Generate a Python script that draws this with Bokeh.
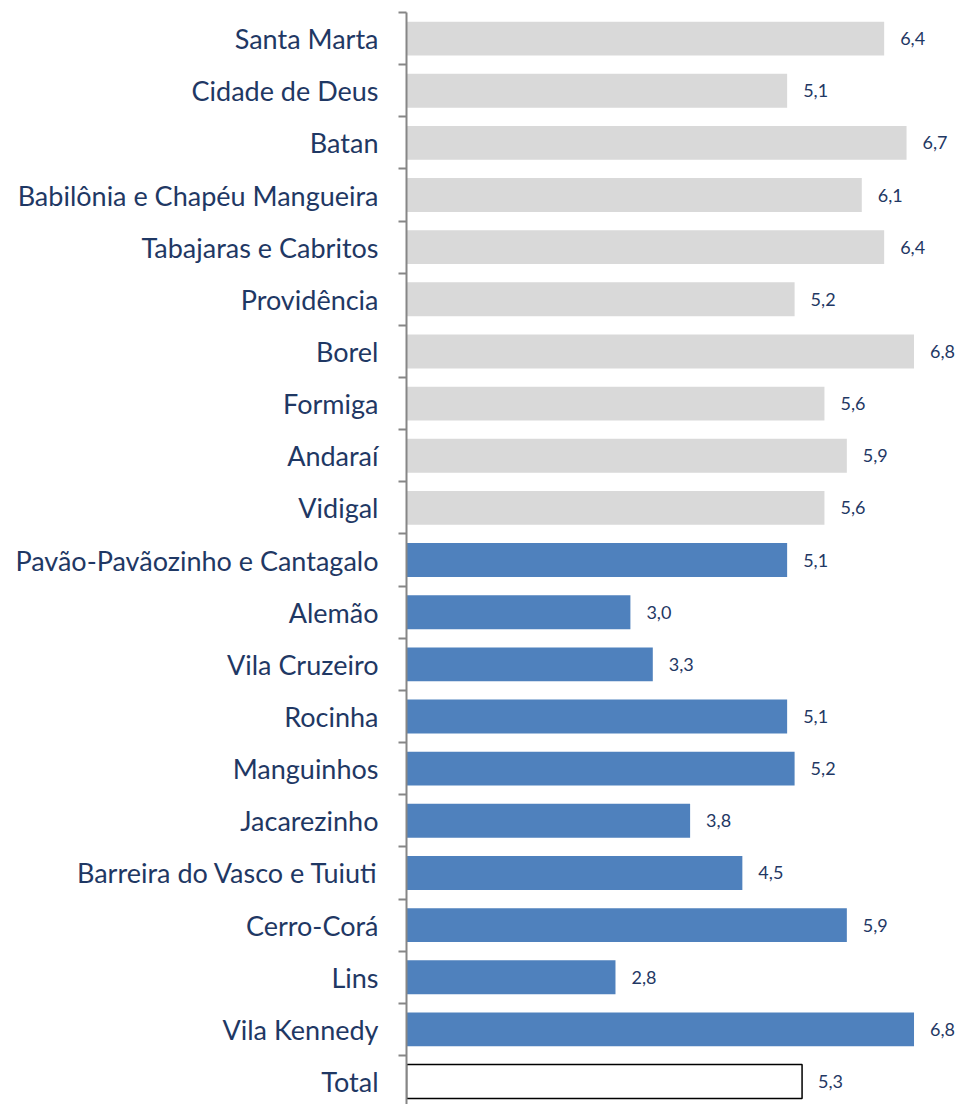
from bokeh.plotting import figure
from bokeh.models import ColumnDataSource, FixedTicker, Range1d
from bokeh.embed import file_html
from bokeh.resources import INLINE
from bokeh.core.properties import value

categories = ["Santa Marta", "Cidade de Deus", "Batan", "Babilônia e Chapéu Mangueira",
              "Tabajaras e Cabritos", "Providência", "Borel", "Formiga", "Andaraí", "Vidigal",
              "Pavão-Pavãozinho e Cantagalo", "Alemão", "Vila Cruzeiro", "Rocinha", "Manguinhos",
              "Jacarezinho", "Barreira do Vasco e Tuiuti", "Cerro-Corá", "Lins", "Vila Kennedy", "Total"]
values = [6.4, 5.1, 6.7, 6.1, 6.4, 5.2, 6.8, 5.6, 5.9, 5.6,
          5.1, 3.0, 3.3, 5.1, 5.2, 3.8, 4.5, 5.9, 2.8, 6.8, 5.3]
groups = ["grey"] * 10 + ["blue"] * 10 + ["total"]

colour_of = {"grey": "#D9D9D9", "blue": "#4F81BD", "total": "#FFFFFF"}
n = len(categories)
ys = [n - 1 - i for i in range(n)]
labels = [f"{v:.1f}".replace(".", ",") for v in values]

src = ColumnDataSource(dict(
    y=ys, v=values, lab=labels,
    fill=[colour_of[g] for g in groups],
    line=["#000000" if g == "total" else None for g in groups],
))

p = figure(width=963, height=1104, output_backend="svg", toolbar_location=None,
           x_range=Range1d(0, 7.463), y_range=Range1d(-0.44, n - 0.5),
           x_axis_location=None, min_border_left=406, min_border_right=0,
           min_border_top=12, min_border_bottom=0)
p.outline_line_color = None
p.xgrid.visible = False
p.ygrid.visible = False

p.hbar(y="y", right="v", left=0, height=0.65, fill_color="fill", line_color="line",
       line_width=1.5, source=src)
p.text(x="v", y="y", text="lab", source=src, x_offset=16, text_baseline="middle",
       text_align="left", text_font=value("Lato"), text_font_size="18px", text_color="#1F3864")

ax = p.yaxis[0]
ax.ticker = FixedTicker(ticks=ys, minor_ticks=[k - 0.5 for k in range(n + 1)])
ax.major_label_overrides = {y: c for y, c in zip(ys, categories)}
ax.major_tick_out = 0
ax.major_tick_in = 0
ax.minor_tick_out = 8
ax.minor_tick_in = 0
ax.minor_tick_line_color = "#868686"
ax.minor_tick_line_width = 2
ax.axis_line_color = "#868686"
ax.axis_line_width = 2
ax.major_label_standoff = 20
ax.major_label_text_font = "Lato"
ax.major_label_text_font_size = "27px"
ax.major_label_text_color = "#1F3864"

open("out.html", "w").write(file_html(p, INLINE))
